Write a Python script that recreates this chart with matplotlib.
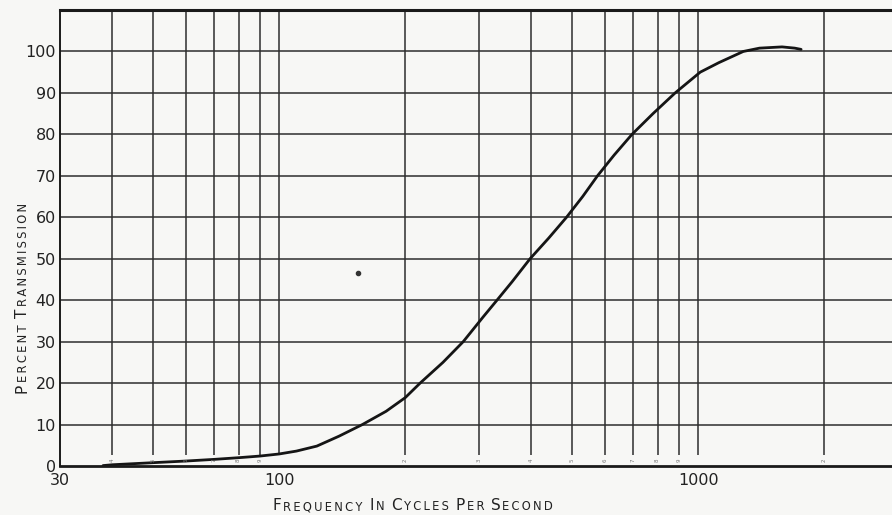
import matplotlib
matplotlib.use("Agg")
import matplotlib.pyplot as plt

plt.rcParams['font.family'] = ['DejaVu Sans']

# transmission curve
freq = [38, 40, 50, 60, 70, 80, 90, 100, 110, 123, 139, 158, 180, 200, 217,
        246, 275, 307, 331, 360, 397, 440, 485, 530, 575, 630, 695, 780,
        881, 1011, 1120, 1281, 1400, 1585, 1700, 1760]
pct = [0.1, 0.3, 0.8, 1.2, 1.6, 2.0, 2.4, 2.9, 3.6, 4.8, 7.2, 10, 13.2, 16.5, 20,
       25, 30, 36, 40, 44.5, 50, 55, 60, 65, 70, 75, 80, 85,
       90, 95, 97.3, 100, 100.8, 101.1, 100.8, 100.5]

# printed log paper
vgrid = [40, 50, 60, 70, 80, 90, 100, 200, 300, 400, 500, 600, 700, 800, 900, 1000, 2000]
vgrid_digits = ['4', '5', '6', '7', '8', '9', '', '2', '3', '4', '5', '6', '7', '8', '9', '', '2']
yticks = [0, 10, 20, 30, 40, 50, 60, 70, 80, 90, 100]
xticks = [30, 100, 1000]
speck = (154, 46.5)

xlabel_words = ['FREQUENCY', 'IN', 'CYCLES', 'PER', 'SECOND']
ylabel_words = ['PERCENT', 'TRANSMISSION']

ink = '#222222'
paper = '#f7f7f5'

fig = plt.figure(figsize=(8.92, 5.15), dpi=100, facecolor=paper)
ax = fig.add_axes([60/892, 49/515, 832/892, 456/515], facecolor=paper)
ax.set_xscale('log')
ax.set_xlim(30, 2900)
ax.set_ylim(0, 110)

ax.hlines(yticks[1:], 30, 2900, color='#2e2e2e', lw=1.1)
ax.vlines(vgrid, 2.6, 110, color='#2e2e2e', lw=1.1)
for f, d in zip(vgrid, vgrid_digits):
    if d:
        ax.text(f, 1.3, d, fontsize=4, rotation=90, ha='center', va='center', color='#777777')

ax.plot(freq, pct, color='#151515', lw=2.0, solid_capstyle='round', solid_joinstyle='round')
ax.plot([speck[0]], [speck[1]], 'o', color='#333333', ms=3)

ax.spines['right'].set_visible(False)
ax.spines['top'].set_linewidth(2.2)
ax.spines['bottom'].set_linewidth(2.0)
ax.spines['left'].set_linewidth(1.4)
for s in ['top', 'bottom', 'left']:
    ax.spines[s].set_color('#1a1a1a')

ax.set_yticks(yticks)
ax.set_yticklabels([str(v) for v in yticks], fontsize=11.5)
ax.set_xticks(xticks)
ax.set_xticklabels([str(v) for v in xticks], fontsize=11.5)
ax.minorticks_off()
ax.tick_params(axis='y', length=0, pad=3, colors=ink)
ax.tick_params(axis='x', length=0, pad=5, colors=ink)


def small_caps(words, x0, y0, vertical=False, big=11, small=8.3, word_gap=5):
    # each word: large initial, the rest as small capitals, chained along a common baseline
    last = None
    for word in words:
        for part, size in [(word[0], big), ('\u2009'.join(word[1:]), small)]:
            if not part:
                continue
            step = word_gap if (last is not None and part == word[0]) else 1.2
            if vertical:
                kw = dict(rotation=90, rotation_mode='anchor', ha='left', va='baseline',
                          fontsize=size, color=ink)
                if last is None:
                    last = fig.text(x0 / 892, y0 / 515, part, **kw)
                else:
                    last = ax.annotate(part, xy=(x0, 1), xycoords=('figure pixels', last),
                                       xytext=(0, step), textcoords='offset points',
                                       annotation_clip=False, **kw)
            else:
                kw = dict(ha='left', va='baseline', fontsize=size, color=ink)
                if last is None:
                    last = fig.text(x0 / 892, y0 / 515, part, **kw)
                else:
                    last = ax.annotate(part, xy=(1, y0), xycoords=(last, 'figure pixels'),
                                       xytext=(step, 0), textcoords='offset points',
                                       annotation_clip=False, **kw)


small_caps(xlabel_words, 273, 5)
small_caps(ylabel_words, 27, 122, vertical=True)

fig.savefig('out.png', dpi=100, facecolor=paper)
